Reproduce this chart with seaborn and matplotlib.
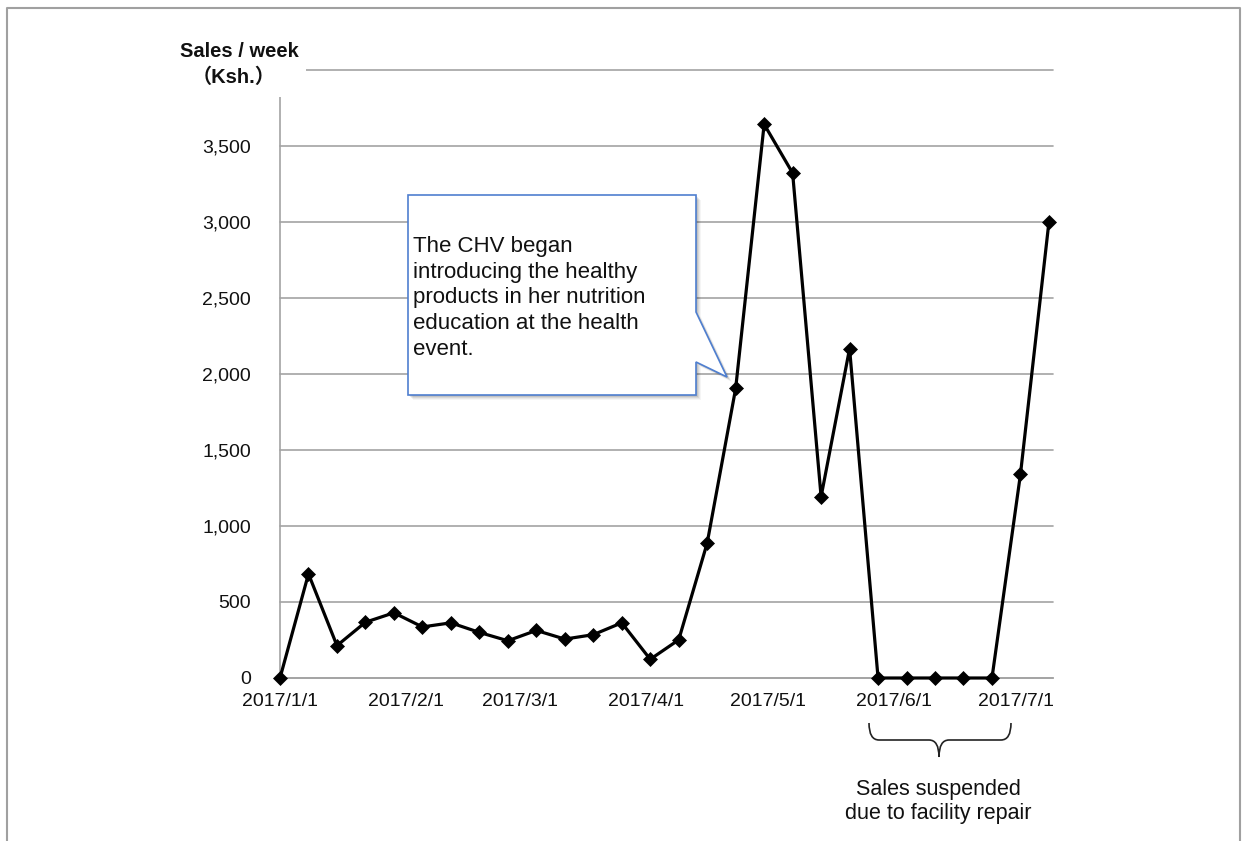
import matplotlib
matplotlib.use("Agg")
import numpy as np
import pandas as pd
import matplotlib.pyplot as plt
from matplotlib.ticker import FuncFormatter
from matplotlib.patches import Polygon, Rectangle, PathPatch
from matplotlib.path import Path
from matplotlib.lines import Line2D
from matplotlib.transforms import Affine2D
import seaborn as sns

# Weekly sales of healthy products (Ksh.), one value per week from 2017/1/1
week_start = "2017-01-01"
sales = [0, 685, 213, 367, 429, 336, 363, 300, 245, 313, 256, 285, 363, 123,
         251, 888, 1905, 3643, 3322, 1193, 2167, 0, 0, 0, 0, 0, 1340, 3000]

month_ticks = ["2017-01-01", "2017-02-01", "2017-03-01", "2017-04-01",
               "2017-05-01", "2017-06-01", "2017-07-01"]
month_labels = ["2017/1/1", "2017/2/1", "2017/3/1", "2017/4/1",
                "2017/5/1", "2017/6/1", "2017/7/1"]
y_ticks = list(range(0, 4001, 500))

title_lines = ["Sales / week", "（Ksh.）"]
callout_lines = ["The CHV began", "introducing the healthy",
                 "products in her nutrition", "education at the health",
                 "event."]
note_lines = ["Sales suspended", "due to facility repair"]

weeks = pd.date_range(week_start, periods=len(sales), freq="7D")
df = pd.DataFrame({"week": weeks, "sales": sales})

sns.set_style("white")
plt.rcParams["font.family"] = ["Liberation Sans", "Noto Sans CJK JP", "DejaVu Sans"]

W, H = 1242, 841
fig = plt.figure(figsize=(W / 100, H / 100), dpi=100)
fig.patch.set_facecolor("white")

# pixel coordinates measured from the top-left corner of the figure
pix = Affine2D().scale(1 / W, -1 / H).translate(0, 1) + fig.transFigure

ax = fig.add_axes([280 / W, 1 - 678 / H, (1053 - 280) / W, (678 - 70) / H])
ax.set_zorder(0)

grid_col = "#a3a3a3"
ax.grid(axis="y", color=grid_col, linewidth=1.2)
ax.grid(axis="x", visible=False)
ax.set_axisbelow(True)

sns.lineplot(data=df, x="week", y="sales", ax=ax, color="black",
             linewidth=2.3, marker="D", markersize=7,
             markeredgecolor="black", markeredgewidth=0.5, zorder=3)
for ln in ax.lines:
    ln.set_clip_on(False)

ax.set_xlim(pd.Timestamp("2017-01-01"), pd.Timestamp("2017-07-10"))
ax.set_ylim(0, 4000)
ax.set_xticks(pd.to_datetime(month_ticks))
ax.set_xticklabels(month_labels)
ax.set_yticks(y_ticks)
ax.yaxis.set_major_formatter(
    FuncFormatter(lambda v, _: "" if v >= 4000 else f"{v:,.0f}"))
ax.set_xlabel("")
ax.set_ylabel("")
for gl in ax.get_ygridlines():
    gl.set_clip_on(False)

for side in ("top", "right"):
    ax.spines[side].set_visible(False)
for side in ("left", "bottom"):
    ax.spines[side].set_color(grid_col)
    ax.spines[side].set_linewidth(1.2)

ax.tick_params(axis="both", direction="out", length=6, width=1.2,
               color=grid_col, labelsize=14, labelcolor="#111111")
ax.tick_params(axis="y", pad=15)
ax.tick_params(axis="x", pad=5)

# white panel behind the axis title
fig.patches.append(Rectangle((150, 25), 156, 72, transform=pix,
                             facecolor="white", edgecolor="none", zorder=2))
fig.text(239 / W, 1 - 56.7 / H, title_lines[0], ha="center", va="baseline",
         fontsize=14.5, fontweight="bold", color="#111111", zorder=3)
fig.text(234 / W, 1 - 83.3 / H, title_lines[1], ha="center", va="baseline",
         fontsize=14.5, fontweight="bold", color="#111111", zorder=3)

# callout box with pointer
callout_pts = [(408, 195), (696, 195), (696, 312), (727, 377),
               (696, 362), (696, 395), (408, 395)]
for k, a in [(5, 0.04), (4, 0.05), (3, 0.07), (2, 0.09), (1, 0.10)]:
    fig.patches.append(Polygon([(x + k, y + k) for x, y in callout_pts],
                               closed=True, transform=pix,
                               facecolor="black", edgecolor="none",
                               alpha=a, zorder=4))
fig.patches.append(Polygon(callout_pts, closed=True, transform=pix,
                           facecolor="white", edgecolor="#4f7fd0",
                           linewidth=1.2, zorder=5))
for i, line in enumerate(callout_lines):
    fig.text(413 / W, 1 - (252 + 25.7 * i) / H, line, ha="left",
             va="baseline", fontsize=16, color="#111111", zorder=6)

# brace under the suspended weeks
brace_verts = [(869, 723), (869, 740), (879, 740), (929, 740),
               (939, 740), (939, 757), (939, 740), (949, 740),
               (1001, 740), (1011, 740), (1011, 723)]
brace_codes = [Path.MOVETO, Path.CURVE3, Path.CURVE3, Path.LINETO,
               Path.CURVE3, Path.CURVE3, Path.CURVE3, Path.CURVE3,
               Path.LINETO, Path.CURVE3, Path.CURVE3]
fig.patches.append(PathPatch(Path(brace_verts, brace_codes), transform=pix,
                             facecolor="none", edgecolor="#222222",
                             linewidth=1.2, zorder=4))
for i, line in enumerate(note_lines):
    fig.text(938 / W, 1 - (795 + 23.5 * i) / H, line, ha="center",
             va="baseline", fontsize=15.5, color="#111111", zorder=4)

# outer frame
fig.lines.append(Line2D([7, 7, 1240, 1240], [841, 8, 8, 841], transform=pix,
                        color="#a0a0a0", linewidth=1.5, zorder=1))

fig.savefig("out.png", dpi=100)
